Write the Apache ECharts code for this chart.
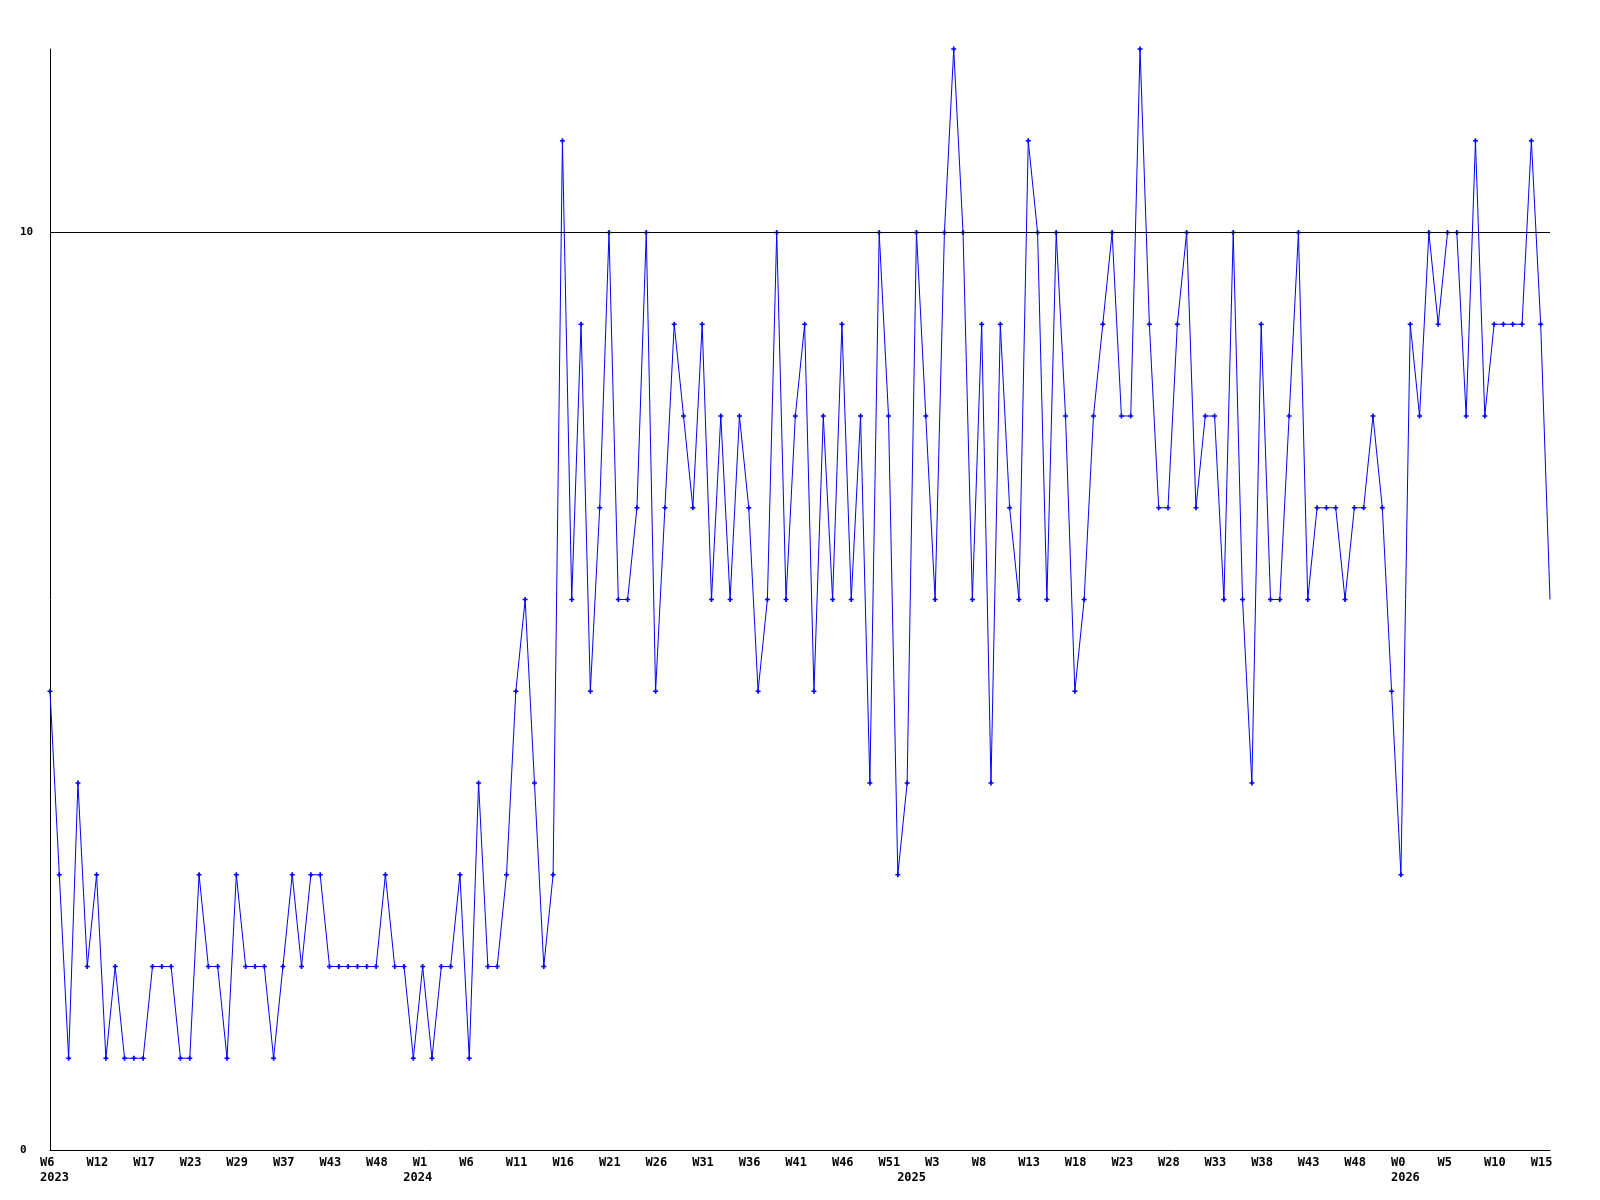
<!DOCTYPE html>
<html>
<head>
<meta charset="utf-8">
<script src="https://cdn.jsdelivr.net/npm/echarts@6/dist/echarts.min.js"></script>
<style>
html,body{margin:0;padding:0;background:#fff;}
#chart{width:1600px;height:1200px;}
</style>
</head>
<body>
<div id="chart"></div>
<script>
// weekly values, one per point (W6 2023 ... W15+ 2026)
const values = [
  5,3,1,4,2,3,1,2,1,1,
  1,2,2,2,1,1,3,2,2,1,
  3,2,2,2,1,2,3,2,3,3,
  2,2,2,2,2,2,3,2,2,1,
  2,1,2,2,3,1,4,2,2,3,
  5,6,4,2,3,11,6,9,5,7,
  10,6,6,7,10,5,7,9,8,7,
  9,6,8,6,8,7,5,6,10,6,
  8,9,5,8,6,9,6,8,4,10,
  8,3,4,10,8,6,10,12,10,6,
  9,4,9,7,6,11,10,6,10,8,
  5,6,8,9,10,8,8,12,9,7,
  7,9,10,7,8,8,6,10,6,4,
  9,6,6,8,10,6,7,7,7,6,
  7,7,8,7,5,3,9,8,10,9,
  10,10,8,11,8,9,9,9,9,11,
  9,6
];
// week tick labels shown every 5th point
const tickLabels = ['W6','W12','W17','W23','W29','W37','W43','W48','W1','W6',
  'W11','W16','W21','W26','W31','W36','W41','W46','W51','W3',
  'W8','W13','W18','W23','W28','W33','W38','W43','W48','W0',
  'W5','W10','W15'];
// year labels keyed by point index
const yearLabels = {0:'2023', 39:'2024', 92:'2025', 145:'2026'};
const yTickLabels = [0, 10];
const refLine = 10;

const categories = values.map((_, i) => String(i));
const seriesData = values.map((v, i) => i === values.length - 1 ? {value: v, symbol: 'none'} : v);

const chart = echarts.init(document.getElementById('chart'), null, {renderer: 'canvas'});
const font = 'DejaVu Sans Mono';
chart.setOption({
  animation: false,
  backgroundColor: '#ffffff',
  grid: {left: 50, right: 50, top: 49, bottom: 50, containLabel: false},
  xAxis: {
    type: 'category',
    data: categories,
    boundaryGap: false,
    axisLine: {show: true, lineStyle: {color: '#000', width: 1}},
    axisTick: {show: false},
    splitLine: {show: false},
    axisLabel: {
      interval: (i) => i % 5 === 0 || yearLabels[i] !== undefined,
      margin: 5,
      align: 'left',
      padding: [0, 0, 0, -10],
      color: '#000',
      fontFamily: font,
      fontWeight: 'bold',
      fontSize: 12,
      lineHeight: 15,
      formatter: (val, i) => {
        const t = i % 5 === 0 ? (tickLabels[i / 5] || '') : '';
        return yearLabels[i] ? t + '\n' + yearLabels[i] : t;
      }
    }
  },
  yAxis: {
    type: 'value',
    min: 0,
    max: 12,
    interval: 10,
    axisLine: {show: true, lineStyle: {color: '#000', width: 1}},
    axisTick: {show: false},
    splitLine: {show: false},
    axisLabel: {
      margin: 30,
      align: 'left',
      color: '#000',
      fontFamily: font,
      fontWeight: 'bold',
      fontSize: 11,
      padding: [4, 0, 0, 0],
      formatter: (v) => yTickLabels.indexOf(v) >= 0 ? String(v) : ''
    }
  },
  series: [{
    type: 'line',
    data: seriesData,
    showAllSymbol: true,
    symbol: 'path://M2,0L4,0L4,2L6,2L6,4L4,4L4,6L2,6L2,4L0,4L0,2L2,2Z',
    symbolSize: 5,
    itemStyle: {color: '#0000ff'},
    lineStyle: {color: '#0000ff', width: 1},
    markLine: {
      silent: true,
      symbol: 'none',
      label: {show: false},
      lineStyle: {color: '#000', width: 1, type: 'solid'},
      data: [{yAxis: refLine}]
    }
  }]
});
</script>
</body>
</html>
